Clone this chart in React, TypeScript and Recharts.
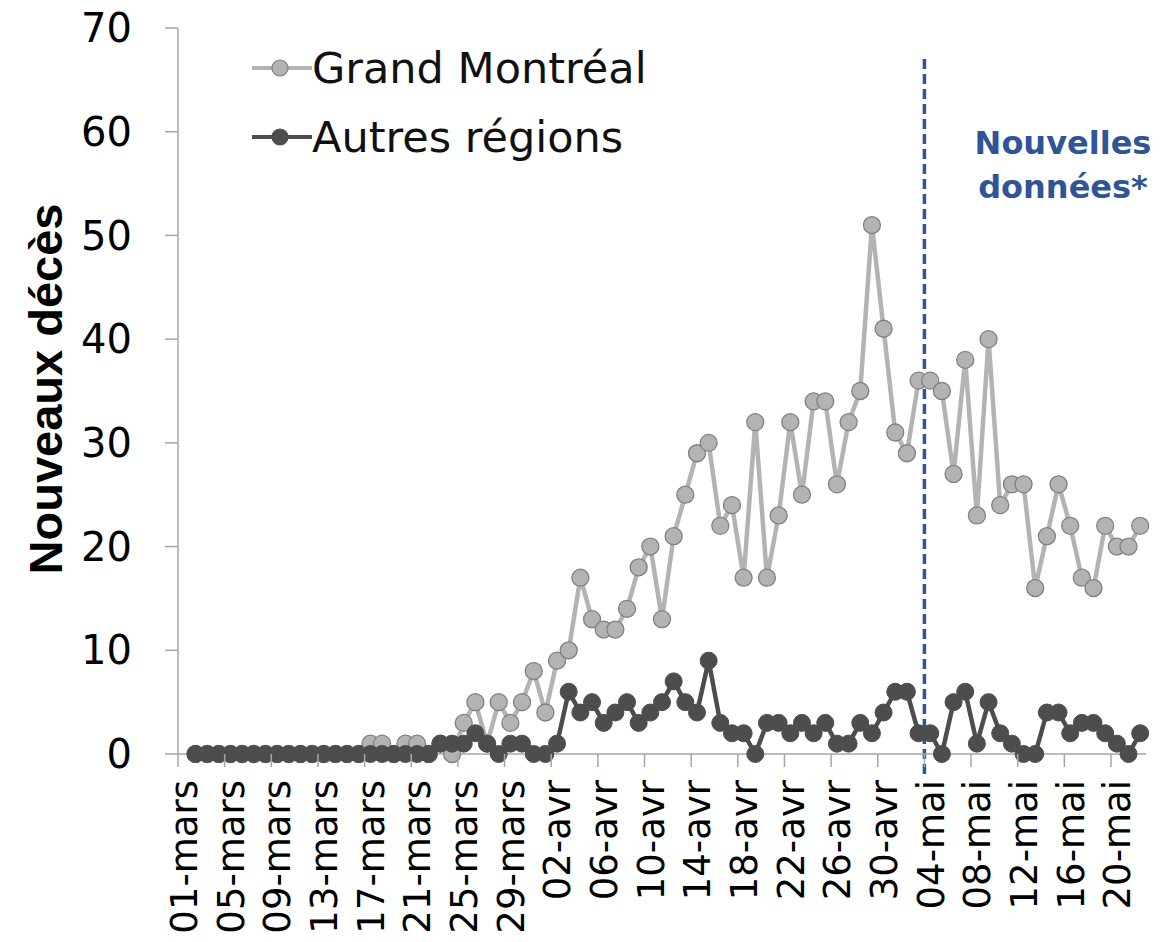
import { LineChart, Line, XAxis, YAxis, ReferenceLine, Label } from 'recharts';

const categories = [
  '01-mars', '02-mars', '03-mars', '04-mars', '05-mars', '06-mars', '07-mars', '08-mars', '09-mars', '10-mars',
  '11-mars', '12-mars', '13-mars', '14-mars', '15-mars', '16-mars', '17-mars', '18-mars', '19-mars', '20-mars',
  '21-mars', '22-mars', '23-mars', '24-mars', '25-mars', '26-mars', '27-mars', '28-mars', '29-mars', '30-mars',
  '31-mars',
  '01-avr', '02-avr', '03-avr', '04-avr', '05-avr', '06-avr', '07-avr', '08-avr', '09-avr', '10-avr',
  '11-avr', '12-avr', '13-avr', '14-avr', '15-avr', '16-avr', '17-avr', '18-avr', '19-avr', '20-avr',
  '21-avr', '22-avr', '23-avr', '24-avr', '25-avr', '26-avr', '27-avr', '28-avr', '29-avr', '30-avr',
  '01-mai', '02-mai', '03-mai', '04-mai', '05-mai', '06-mai', '07-mai', '08-mai', '09-mai', '10-mai',
  '11-mai', '12-mai', '13-mai', '14-mai', '15-mai', '16-mai', '17-mai', '18-mai', '19-mai', '20-mai',
  '21-mai', '22-mai',
];

const grandMontreal = [
  null, 0, 0, 0, 0, 0, 0, 0, 0, 0, 0, 0, 0, 0, 0, 0,
  1, 1, 0, 1, 1, 0, 1, 0, 3, 5,
  1, 5, 3, 5, 8, 4, 9, 10, 17, 13,
  12, 12, 14, 18, 20, 13, 21, 25, 29, 30,
  22, 24, 17, 32, 17, 23, 32, 25, 34, 34,
  26, 32, 35, 51, 41, 31, 29, 36, 36, 35,
  27, 38, 23, 40, 24, 26, 26, 16, 21, 26,
  22, 17, 16, 22, 20, 20, 22,
];

const autresRegions = [
  null, 0, 0, 0, 0, 0, 0, 0, 0, 0, 0, 0, 0, 0, 0, 0, 0, 0, 0, 0, 0, 0,
  1, 1, 1, 2, 1, 0, 1, 1, 0, 0,
  1, 6, 4, 5, 3, 4, 5, 3, 4, 5,
  7, 5, 4, 9, 3, 2, 2, 0, 3, 3,
  2, 3, 2, 3, 1, 1, 3, 2, 4, 6,
  6, 2, 2, 0, 5, 6, 1, 5, 2, 1,
  0, 0, 4, 4, 2, 3, 3, 2, 1, 0, 2,
];

const yTicks = [0, 10, 20, 30, 40, 50, 60, 70];

const data = categories.map((date, i) => ({
  date,
  gm: grandMontreal[i],
  ar: autresRegions[i],
}));

const W = 1161;
const H = 942;
const PLOT_LEFT = 178;
const PLOT_RIGHT = 1146;
const PLOT_TOP = 28;
const PLOT_BOTTOM = 754;
const BAND = (PLOT_RIGHT - PLOT_LEFT) / categories.length;

const AXIS_COLOR = '#a6a6a6';
const LIGHT = '#b3b3b3';
const DARK = '#4d4d4d';
const BLUE = '#2f5597';
const FONT = '"DejaVu Sans", sans-serif';

const legendItems = [
  { label: 'Grand Montréal', line: LIGHT, fill: LIGHT, stroke: '#808080' },
  { label: 'Autres régions', line: DARK, fill: DARK, stroke: DARK },
];

const XTick = ({ x, y, payload }: any) => (
  <g>
    <line x1={x - BAND / 2} x2={x - BAND / 2} y1={y} y2={y + 13} stroke={AXIS_COLOR} strokeWidth={1.5} />
    <text
      transform={`translate(${x},${y + 26}) rotate(-90)`}
      textAnchor="end"
      dy="0.36em"
      fontFamily={FONT}
      fontSize={37}
      fill="#000"
    >
      {payload.value}
    </text>
  </g>
);

const renderYLabel = () => (
  <text
    x={45}
    y={389}
    transform="rotate(-90 45 389)"
    textAnchor="middle"
    dominantBaseline="central"
    fontFamily='"Liberation Sans", Arial, sans-serif'
    fontWeight="bold"
    fontSize={47}
    fill="#000"
  >
    Nouveaux décès
  </text>
);

export default function App() {
  return (
    <div style={{ position: 'absolute', left: 0, top: 0, width: W, height: H, background: '#fff' }}>
      <LineChart
        width={W}
        height={H}
        data={data}
        margin={{ top: PLOT_TOP, right: W - PLOT_RIGHT, bottom: 0, left: 0 }}
      >
        <XAxis
          dataKey="date"
          scale="band"
          interval={3}
          height={H - PLOT_BOTTOM}
          tickLine={false}
          tickSize={0}
          tickMargin={0}
          axisLine={{ stroke: AXIS_COLOR, strokeWidth: 1.5 }}
          tick={<XTick />}
        />
        <YAxis
          domain={[0, 70]}
          ticks={yTicks}
          width={PLOT_LEFT}
          tickSize={13}
          tickMargin={33}
          axisLine={{ stroke: AXIS_COLOR, strokeWidth: 1.5 }}
          tickLine={{ stroke: AXIS_COLOR, strokeWidth: 1.5 }}
          tick={{ fontFamily: FONT, fontSize: 40, fill: '#000' }}
        >
          <Label content={renderYLabel} />
        </YAxis>
        <ReferenceLine
          segment={[{ x: '04-mai', y: 67 }, { x: '04-mai', y: -2 }]}
          position="start"
          ifOverflow="visible"
          stroke={BLUE}
          strokeWidth={3.5}
          strokeDasharray="10 5"
        />
        <Line
          dataKey="gm"
          name="Grand Montréal"
          stroke={LIGHT}
          strokeWidth={4.5}
          dot={{ r: 8.5, fill: LIGHT, stroke: '#808080', strokeWidth: 1.3 }}
          activeDot={false}
          isAnimationActive={false}
        />
        <Line
          dataKey="ar"
          name="Autres régions"
          stroke={DARK}
          strokeWidth={4.5}
          dot={{ r: 8.5, fill: DARK, stroke: DARK, strokeWidth: 1 }}
          activeDot={false}
          isAnimationActive={false}
        />
      </LineChart>

      {/* legend */}
      <div style={{ position: 'absolute', left: 252, top: 33 }}>
        {legendItems.map((it) => (
          <div key={it.label} style={{ display: 'flex', alignItems: 'center', height: 69 }}>
            <svg width={60} height={20} style={{ display: 'block' }}>
              <line x1={0} x2={60} y1={10} y2={10} stroke={it.line} strokeWidth={4} />
              <circle cx={28} cy={10} r={8} fill={it.fill} stroke={it.stroke} strokeWidth={1.2} />
            </svg>
            <span style={{ fontFamily: FONT, fontSize: 43, color: '#111', marginLeft: 0, whiteSpace: 'nowrap' }}>
              {it.label}
            </span>
          </div>
        ))}
      </div>

      <div
        style={{
          position: 'absolute',
          left: 963,
          top: 121,
          width: 200,
          textAlign: 'center',
          fontFamily: FONT,
          fontWeight: 'bold',
          fontSize: 32,
          lineHeight: '44px',
          color: BLUE,
        }}
      >
        Nouvelles
        <br />
        données*
      </div>
    </div>
  );
}
